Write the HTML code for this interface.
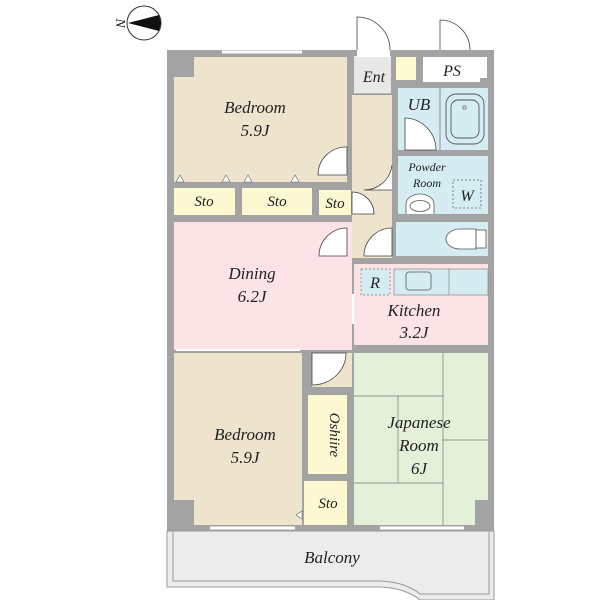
<!DOCTYPE html>
<html><head><meta charset="utf-8"><style>
html,body{margin:0;padding:0;background:#fff;width:600px;height:600px;overflow:hidden}
svg text{font-family:"Liberation Serif",serif;font-style:italic;fill:#222}
</style></head><body>
<svg width="600" height="600" viewBox="0 0 600 600" xmlns="http://www.w3.org/2000/svg">
<!-- compass -->
<circle cx="144" cy="23" r="17" fill="#fff" stroke="#333" stroke-width="1"/>
<polygon points="128,23 159,15 161,23 159,31" fill="#111"/>
<text x="116" y="23" font-size="14" transform="rotate(90 116 23)" text-anchor="middle">N</text>

<!-- outer walls -->
<rect x="167" y="50" width="327" height="481" fill="#a3a3a3"/>
<!-- top bedroom -->
<polygon points="194,57 347,57 347,182 174,182 174,77 194,77" fill="#eee3cc"/>
<line x1="222" y1="52" x2="302" y2="52" stroke="#fff" stroke-width="3"/>
<!-- Sto row -->
<rect x="174" y="188" width="61" height="27" fill="#fbf8d2"/>
<rect x="242" y="188" width="70" height="27" fill="#fbf8d2"/>
<rect x="319" y="190" width="32" height="25" fill="#fbf8d2"/>
<polygon points="176,182 180,175 184,182" fill="#fff" stroke="#666" stroke-width=".6"/>
<polygon points="222,182 226,175 230,182" fill="#fff" stroke="#666" stroke-width=".6"/>
<polygon points="244,182 248,175 252,182" fill="#fff" stroke="#666" stroke-width=".6"/>
<polygon points="291,182 295,175 299,182" fill="#fff" stroke="#666" stroke-width=".6"/>
<!-- hall -->
<rect x="352" y="95" width="40" height="163" fill="#eee3cc"/>
<!-- Ent -->
<rect x="354" y="56" width="37" height="38" fill="#e8e8e8"/>
<line x1="354" y1="94" x2="391" y2="94" stroke="#888" stroke-width="1"/>
<rect x="396" y="57" width="20" height="23" fill="#fdfbd0"/>
<polygon points="423,57 487,57 487,78 480,78 480,82 423,82" fill="#fff"/>
<!-- entrance gaps + doors -->
<rect x="357" y="50" width="33" height="7" fill="#fff"/>
<path d="M357,50 L357,17 A33,33 0 0 1 390,50" fill="#fff" stroke="#444" stroke-width=".8"/>
<path d="M440,50 L440,20 A30,30 0 0 1 470,50" fill="#fff" stroke="#444" stroke-width=".8"/>
<!-- UB -->
<rect x="398" y="88" width="90" height="62" fill="#d5ecf3"/>
<line x1="440" y1="88" x2="440" y2="150" stroke="#777" stroke-width=".8"/>
<rect x="446" y="94" width="38" height="50" rx="10" fill="none" stroke="#555" stroke-width=".9"/>
<rect x="451" y="100" width="28" height="38" rx="7" fill="none" stroke="#555" stroke-width=".9"/>
<rect x="463" y="106" width="3" height="3" fill="none" stroke="#555" stroke-width=".6"/>
<path d="M405,150 L405,118 A32,32 0 0 1 436,150 Z" fill="#fff" stroke="#444" stroke-width=".8"/>
<text x="419" y="110" font-size="17" text-anchor="middle">UB</text>
<!-- Powder -->
<rect x="398" y="156" width="90" height="58" fill="#d5ecf3"/>
<text x="427" y="171" font-size="12" text-anchor="middle">Powder</text>
<text x="427" y="187" font-size="12" text-anchor="middle">Room</text>
<rect x="453" y="180" width="28" height="28" fill="none" stroke="#666" stroke-dasharray="2,2" stroke-width=".8"/>
<text x="467" y="201" font-size="16" text-anchor="middle">W</text>
<path d="M406,214 L406,204 A14,10 0 0 1 434,204 L434,214" fill="#fff" stroke="#555" stroke-width=".8"/>
<ellipse cx="420" cy="206" rx="10" ry="5.5" fill="none" stroke="#555" stroke-width=".8"/>
<!-- Toilet -->
<rect x="396" y="222" width="92" height="34" fill="#d5ecf3"/>
<path d="M476,229 L460,229 A14,10 0 0 0 460,249 L476,249 Z" fill="#fff" stroke="#555" stroke-width=".8"/>
<rect x="476" y="230" width="10" height="18" fill="#fff" stroke="#555" stroke-width=".8"/>
<!-- hall doors -->
<path d="M392,165 A28,28 0 0 1 364,190 L392,190" fill="#fff" stroke="#444" stroke-width=".8"/>
<path d="M347,147 A28,28 0 0 0 318,175 L347,175 Z" fill="#fff" stroke="#444" stroke-width=".8"/>
<path d="M352,192 A22,22 0 0 1 374,214 L352,214 Z" fill="#fff" stroke="#444" stroke-width=".8"/>
<path d="M392,228 A28,28 0 0 0 364,256 L392,256 Z" fill="#fff" stroke="#444" stroke-width=".8"/>
<!-- Dining -->
<rect x="174" y="222" width="178" height="128" fill="#fce4e6"/>
<rect x="340" y="262" width="12" height="88" fill="#fce4e6"/>
<path d="M347,228 A28,28 0 0 0 319,256 L347,256 Z" fill="#fff" stroke="#444" stroke-width=".8"/>
<rect x="352" y="294" width="4" height="30" fill="#fff"/>
<!-- Kitchen -->
<rect x="354" y="264" width="134" height="81" fill="#fce4e6"/>
<rect x="361" y="269" width="29" height="26" fill="#d5ecf3" stroke="#777" stroke-dasharray="2,2" stroke-width=".7"/>
<text x="375" y="288" font-size="16" text-anchor="middle">R</text>
<rect x="394" y="269" width="94" height="26" fill="#d5ecf3" stroke="#888" stroke-width=".7"/>
<line x1="449" y1="269" x2="449" y2="295" stroke="#888" stroke-width=".7"/>
<rect x="406" y="272" width="25" height="18" rx="3" fill="none" stroke="#555" stroke-width=".8"/>
<text x="414" y="316" font-size="17" text-anchor="middle">Kitchen</text>
<text x="414" y="338" font-size="17" text-anchor="middle">3.2J</text>
<!-- bottom bedroom -->
<polygon points="174,353 302,353 302,525 194,525 194,500 174,500" fill="#eee3cc"/>
<polygon points="302,511 296,515 302,519" fill="#fff" stroke="#666" stroke-width=".6"/>
<line x1="176" y1="350" x2="300" y2="350" stroke="#fff" stroke-width="2"/>
<!-- closet passage -->
<rect x="312" y="353" width="40" height="34" fill="#eee3cc"/>
<path d="M312,353 L346,353 A34,32 0 0 1 312,385 Z" fill="#fff" stroke="#444" stroke-width=".8"/>
<!-- Oshiire -->
<rect x="308" y="395" width="39" height="79" fill="#fbf8d2"/>
<text x="330" y="435" font-size="15" text-anchor="middle" transform="rotate(90 330 435)">Oshiire</text>
<!-- Sto bottom -->
<rect x="304" y="481" width="43" height="44" fill="#fbf8d2"/>
<text x="328" y="508" font-size="15" text-anchor="middle">Sto</text>
<!-- Japanese room -->
<polygon points="354,353 488,353 488,500 475,500 475,525 354,525" fill="#e4f0d8"/>
<g stroke="#777" stroke-width=".7" fill="none">
<line x1="354" y1="396" x2="443" y2="396"/>
<line x1="443" y1="353" x2="443" y2="525"/>
<line x1="398" y1="396" x2="398" y2="483"/>
<line x1="443" y1="440" x2="488" y2="440"/>
<line x1="354" y1="483" x2="443" y2="483"/>
</g>
<line x1="210" y1="528" x2="295" y2="528" stroke="#fff" stroke-width="3"/>
<line x1="380" y1="528" x2="464" y2="528" stroke="#fff" stroke-width="3"/>
<!-- Balcony -->
<path d="M167,531 L494,531 L494,600 L420,600 Q405,588 380,587 L167,587 Z" fill="#ececec" stroke="#999" stroke-width="1"/>
<path d="M173,531 L173,581 L380,581 Q405,582 420,594 L489,594 L489,531" fill="none" stroke="#999" stroke-width="1"/>
<!-- labels -->
<text x="255" y="113" font-size="17" text-anchor="middle">Bedroom</text>
<text x="255" y="136" font-size="17" text-anchor="middle">5.9J</text>
<text x="204" y="206" font-size="15" text-anchor="middle">Sto</text>
<text x="277" y="206" font-size="15" text-anchor="middle">Sto</text>
<text x="335" y="208" font-size="15" text-anchor="middle">Sto</text>
<text x="374" y="82" font-size="16" text-anchor="middle">Ent</text>
<text x="452" y="76" font-size="16" text-anchor="middle">PS</text>
<text x="252" y="279" font-size="17" text-anchor="middle">Dining</text>
<text x="252" y="302" font-size="17" text-anchor="middle">6.2J</text>
<text x="245" y="440" font-size="17" text-anchor="middle">Bedroom</text>
<text x="245" y="463" font-size="17" text-anchor="middle">5.9J</text>
<text x="419" y="428" font-size="17" text-anchor="middle">Japanese</text>
<text x="419" y="451" font-size="17" text-anchor="middle">Room</text>
<text x="419" y="474" font-size="17" text-anchor="middle">6J</text>
<text x="332" y="563" font-size="17" text-anchor="middle">Balcony</text>
</svg>
</body></html>
